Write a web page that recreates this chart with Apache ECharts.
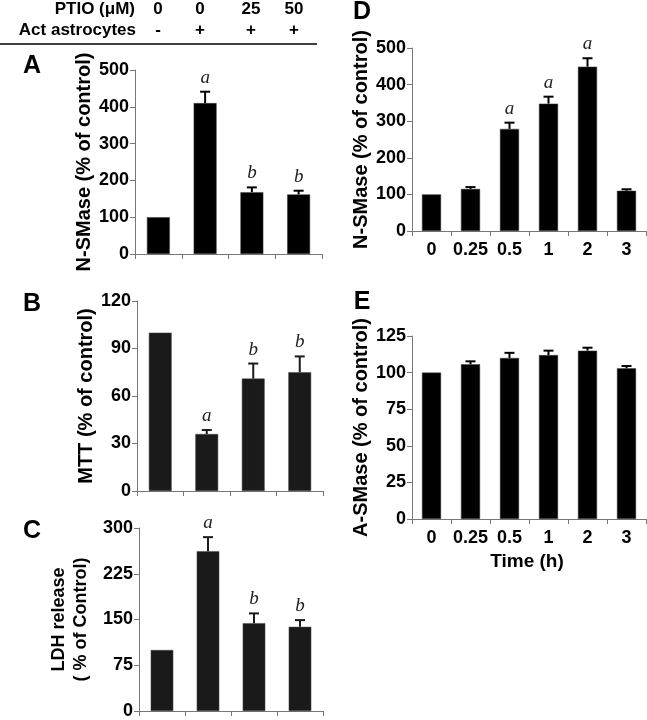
<!DOCTYPE html>
<html>
<head>
<meta charset="utf-8">
<script src="https://cdn.jsdelivr.net/npm/echarts@6/dist/echarts.min.js"></script>
<style>html,body{margin:0;padding:0;background:#fff}#c{width:647px;height:720px}</style>
</head>
<body>
<div id="c"></div>
<script>
// ---- data ----
const ptioLabels = ['0', '0', '25', '50'];
const actLabels = ['-', '+', '+', '+'];
const groupCats = ['ctrl', 'act', 'ptio25', 'ptio50'];
const timeCats = ['0', '0.25', '0.5', '1', '2', '3'];

const nsmaseA = [100, 410, 168, 162];
const semA = [0, 31, 13, 10];
const sigA = ['', 'a', 'b', 'b'];

const mttB = [100, 36, 71, 75];
const semB = [0, 2.5, 9.5, 10];
const sigB = ['', 'a', 'b', 'b'];

const ldhC = [100, 262, 144, 138];
const semC = [0, 23, 16, 11];
const sigC = ['', 'a', 'b', 'b'];

const nsmaseD = [100, 115, 279, 348, 449, 110];
const semD = [0, 5, 17, 19, 23, 4];
const sigD = ['', '', 'a', 'a', 'a', ''];

const asmaseE = [100, 105.7, 110, 112, 115, 103];
const semE = [0, 2, 3.5, 3, 2, 1.5];
const sigE = ['', '', '', '', '', ''];

// ---- chart ----
const FONT = '"Liberation Sans", Arial, sans-serif';
const AXC = '#777';

function xAxis(grid, cats, showLabels) {
  return {
    type: 'category', gridIndex: grid, data: cats,
    axisLine: { lineStyle: { color: AXC, width: 1 } },
    axisTick: { show: true, interval: 0, length: 5, lineStyle: { color: AXC } },
    axisLabel: { show: showLabels, interval: 0, margin: 10, fontFamily: FONT, fontWeight: 'bold', fontSize: 18, color: '#000' },
    splitLine: { show: false }
  };
}
function yAxis(grid, max, interval, name, gap, nameSize) {
  return {
    type: 'value', gridIndex: grid, min: 0, max: max, interval: interval,
    name: name, nameLocation: 'middle', nameGap: gap, nameRotate: 90,
    nameTextStyle: { fontFamily: FONT, fontWeight: 'bold', fontSize: nameSize, color: '#000', lineHeight: 22 },
    axisLine: { show: true, lineStyle: { color: AXC, width: 1 } },
    axisTick: { show: true, length: 5, lineStyle: { color: AXC } },
    axisLabel: { margin: 6, fontFamily: FONT, fontWeight: 'bold', fontSize: 18, color: '#000' },
    splitLine: { show: false }
  };
}
function barSeries(grid, vals, color) {
  return {
    type: 'bar', xAxisIndex: grid, yAxisIndex: grid, data: vals, barWidth: '49%',
    itemStyle: { color: color, borderColor: '#444', borderWidth: 0.5 }, z: 2, silent: true
  };
}
function errSeries(grid, vals, sems, sigs, color) {
  return {
    type: 'custom', xAxisIndex: grid, yAxisIndex: grid, z: 3, silent: true,
    encode: { x: 0, y: [1, 2] },
    data: vals.map((v, i) => [i, v, v + sems[i]]),
    renderItem: function (params, api) {
      const i = api.value(0), v = api.value(1), t = api.value(2);
      const p0 = api.coord([i, v]);
      const p1 = api.coord([i, t]);
      const ch = [];
      if (t > v) {
        ch.push({ type: 'line', shape: { x1: p0[0], y1: p0[1], x2: p1[0], y2: p1[1] }, style: { stroke: color, lineWidth: 2 } });
        ch.push({ type: 'line', shape: { x1: p1[0] - 5, y1: p1[1], x2: p1[0] + 5, y2: p1[1] }, style: { stroke: color, lineWidth: 2 } });
      }
      const s = sigs[params.dataIndex];
      if (s) {
        ch.push({ type: 'text', style: { text: s, x: p1[0], y: p1[1] - 14, align: 'center', verticalAlign: 'middle',
          font: 'italic 19px "Liberation Serif", "Times New Roman", serif', fill: '#222' } });
      }
      return { type: 'group', children: ch };
    }
  };
}

const grids = [
  { left: 135, top: 70, width: 187, height: 184 },   // A
  { left: 137, top: 301, width: 186, height: 190 },  // B
  { left: 139, top: 528, width: 184, height: 185 },  // C
  { left: 412, top: 48, width: 234, height: 183 },   // D
  { left: 412, top: 336, width: 234, height: 183 }   // E
];

const headerX = [158, 200, 251, 294];
const graphic = [
  { type: 'text', x: 135, y: 9, style: { text: 'PTIO (μM)', align: 'right', verticalAlign: 'middle', font: 'bold 17px ' + FONT, fill: '#000' } },
  { type: 'text', x: 136, y: 30, style: { text: 'Act astrocytes', align: 'right', verticalAlign: 'middle', font: 'bold 17px ' + FONT, fill: '#000' } },
  { type: 'line', shape: { x1: 0, y1: 44, x2: 317, y2: 44 }, style: { stroke: '#000', lineWidth: 1.5 } },
  { type: 'text', x: 32, y: 66, style: { text: 'A', align: 'center', verticalAlign: 'middle', font: 'bold 25px ' + FONT, fill: '#000' } },
  { type: 'text', x: 32, y: 304, style: { text: 'B', align: 'center', verticalAlign: 'middle', font: 'bold 25px ' + FONT, fill: '#000' } },
  { type: 'text', x: 32, y: 531, style: { text: 'C', align: 'center', verticalAlign: 'middle', font: 'bold 25px ' + FONT, fill: '#000' } },
  { type: 'text', x: 362, y: 12, style: { text: 'D', align: 'center', verticalAlign: 'middle', font: 'bold 25px ' + FONT, fill: '#000' } },
  { type: 'text', x: 362, y: 302, style: { text: 'E', align: 'center', verticalAlign: 'middle', font: 'bold 25px ' + FONT, fill: '#000' } },
  { type: 'text', x: 527, y: 562, style: { text: 'Time (h)', align: 'center', verticalAlign: 'middle', font: 'bold 19px ' + FONT, fill: '#000' } }
];
ptioLabels.forEach((t, i) => graphic.push({ type: 'text', x: headerX[i], y: 9, style: { text: t, align: 'center', verticalAlign: 'middle', font: 'bold 17px ' + FONT, fill: '#000' } }));
actLabels.forEach((t, i) => graphic.push({ type: 'text', x: headerX[i], y: 30, style: { text: t, align: 'center', verticalAlign: 'middle', font: 'bold 17px ' + FONT, fill: '#000' } }));

const option = {
  animation: false,
  backgroundColor: '#fff',
  grid: grids,
  xAxis: [
    xAxis(0, groupCats, false), xAxis(1, groupCats, false), xAxis(2, groupCats, false),
    xAxis(3, timeCats, true), xAxis(4, timeCats, true)
  ],
  yAxis: [
    yAxis(0, 500, 100, 'N-SMase (% of control)', 39, 20),
    yAxis(1, 120, 30, 'MTT (% of control)', 40, 20),
    yAxis(2, 300, 75, 'LDH release\n( % of Control)', 47, 18),
    yAxis(3, 500, 100, 'N-SMase (% of control)', 39, 20),
    yAxis(4, 125, 25, 'A-SMase (% of control)', 39, 20)
  ],
  graphic: graphic,
  series: [
    barSeries(0, nsmaseA, '#000'), errSeries(0, nsmaseA, semA, sigA, '#000'),
    barSeries(1, mttB, '#1a1a1a'), errSeries(1, mttB, semB, sigB, '#1a1a1a'),
    barSeries(2, ldhC, '#1a1a1a'), errSeries(2, ldhC, semC, sigC, '#1a1a1a'),
    barSeries(3, nsmaseD, '#000'), errSeries(3, nsmaseD, semD, sigD, '#000'),
    barSeries(4, asmaseE, '#000'), errSeries(4, asmaseE, semE, sigE, '#000')
  ]
};
const chart = echarts.init(document.getElementById('c'), null, { renderer: 'canvas' });
chart.setOption(option);
</script>
</body>
</html>
